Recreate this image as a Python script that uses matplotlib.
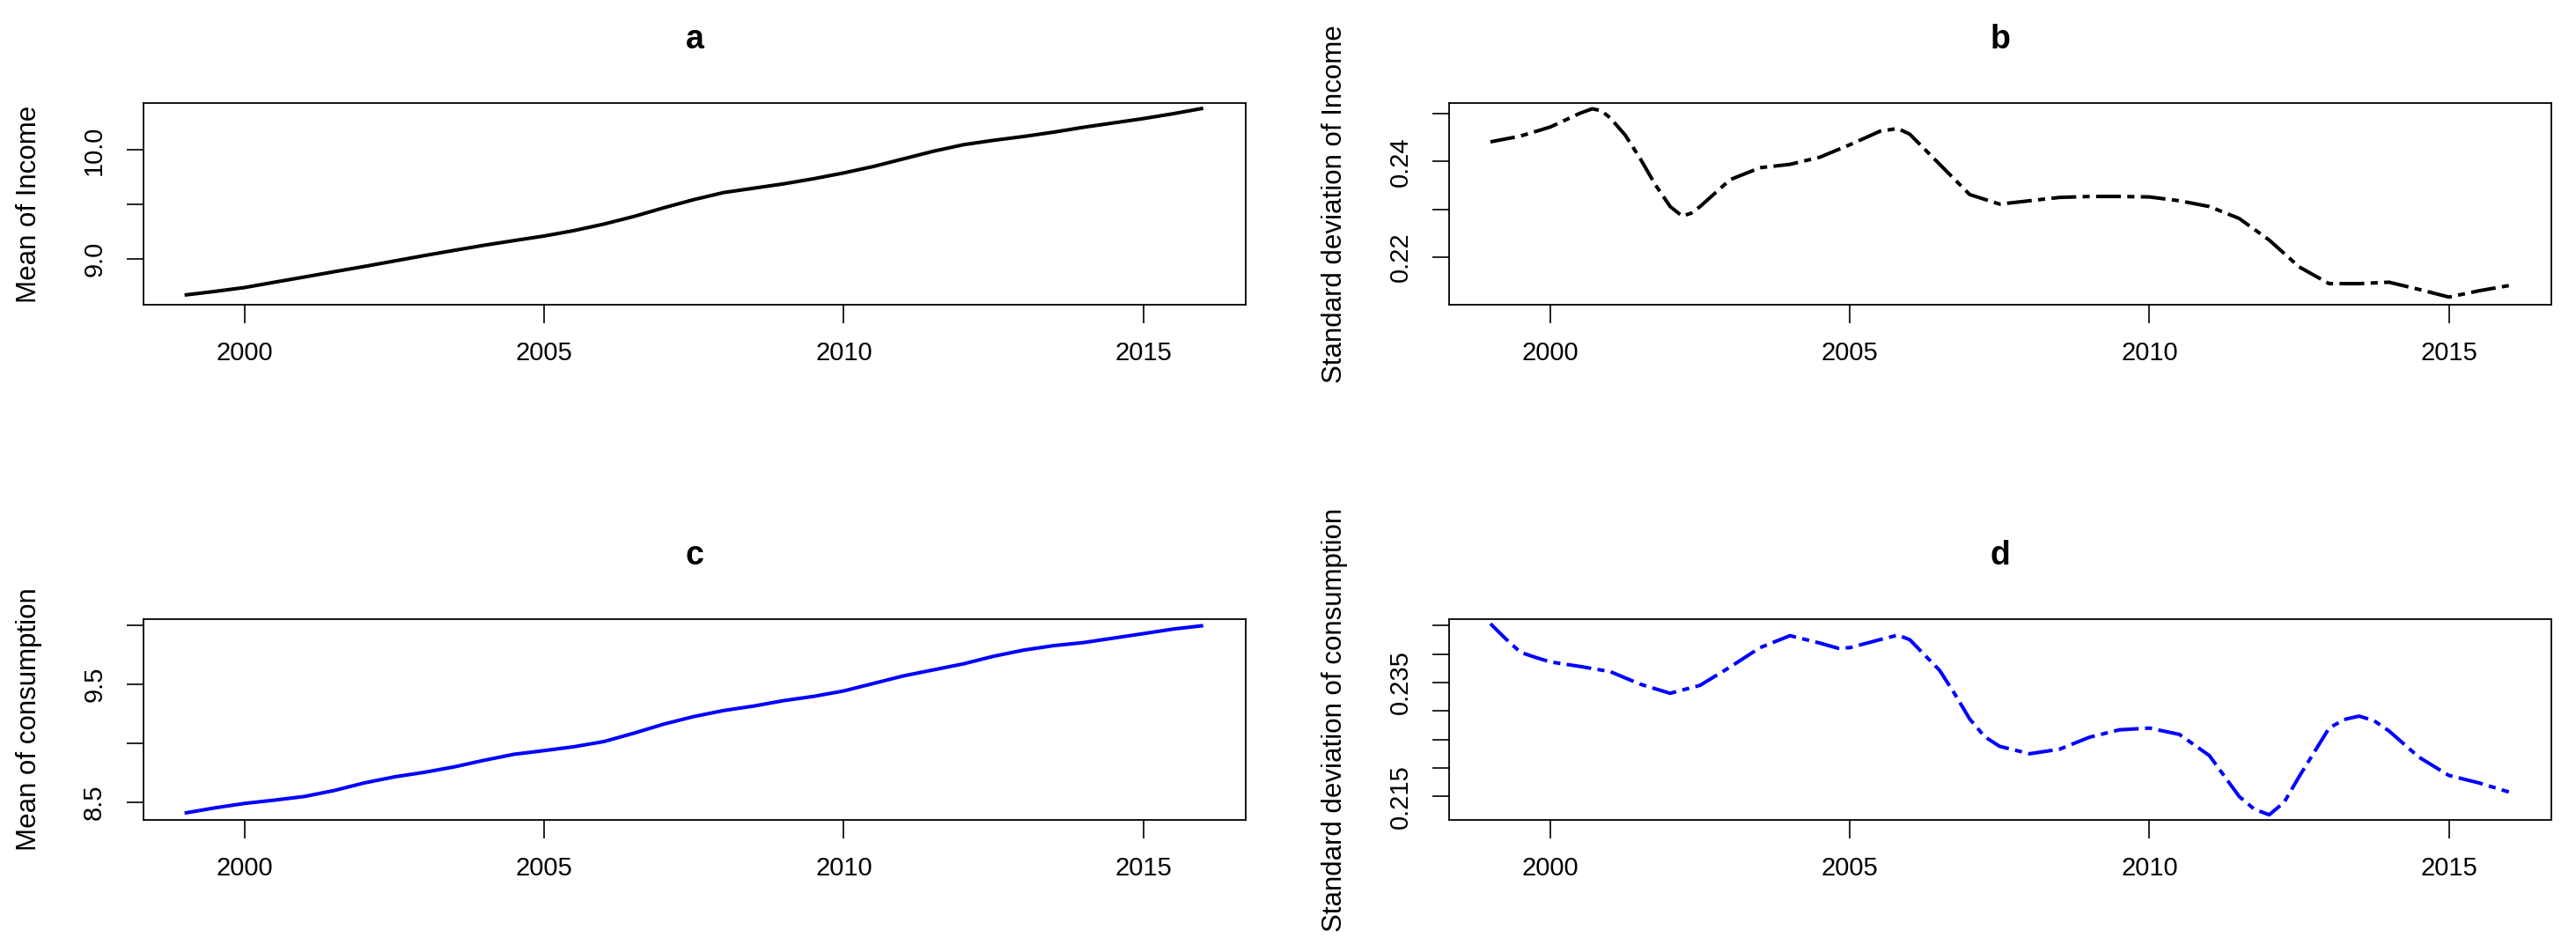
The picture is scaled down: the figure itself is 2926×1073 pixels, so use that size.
import matplotlib
matplotlib.use("Agg")
import matplotlib.pyplot as plt

plt.rcParams['font.family'] = ['Liberation Sans', 'DejaVu Sans']

# ---- data ----
years_a = [1999, 1999.5, 2000, 2000.5, 2001, 2001.5, 2002, 2002.5, 2003, 2003.5,
           2004, 2004.5, 2005, 2005.5, 2006, 2006.5, 2007, 2007.5, 2008, 2008.5,
           2009, 2009.5, 2010, 2010.5, 2011, 2011.5, 2012, 2012.5, 2013, 2013.5,
           2014, 2014.5, 2015, 2015.5, 2016]
mean_income = [8.667, 8.700, 8.736, 8.785, 8.833, 8.882, 8.93, 8.98, 9.03, 9.078,
               9.125, 9.168, 9.21, 9.26, 9.32, 9.39, 9.47, 9.545, 9.61, 9.65,
               9.69, 9.737, 9.79, 9.85, 9.92, 9.99, 10.05, 10.09, 10.125, 10.165,
               10.21, 10.25, 10.29, 10.335, 10.385]

years_b = [1999, 1999.5, 2000, 2000.5, 2000.7, 2000.85, 2001, 2001.25, 2001.5, 2001.75,
           2002, 2002.2, 2002.35, 2002.5, 2003, 2003.5, 2004, 2004.5, 2005, 2005.5,
           2005.8, 2006, 2006.5, 2007, 2007.5, 2008, 2008.5, 2009, 2009.5, 2010,
           2010.5, 2011, 2011.5, 2012, 2012.5, 2013, 2013.5, 2014, 2014.5, 2015,
           2015.5, 2016]
sd_income = [0.2441, 0.2453, 0.2472, 0.2501, 0.2510, 0.2506, 0.2491, 0.2455, 0.2406, 0.2352,
             0.2306, 0.2286, 0.2292, 0.2306, 0.2362, 0.2387, 0.2394, 0.2409, 0.2435, 0.2463,
             0.2469, 0.2457, 0.2394, 0.2331, 0.2311, 0.2318, 0.2325, 0.2327, 0.2327, 0.2326,
             0.2318, 0.2306, 0.2281, 0.2236, 0.2180, 0.2145, 0.2145, 0.2148, 0.2133, 0.2117,
             0.2130, 0.2141]

years_c = [1999, 1999.5, 2000, 2000.5, 2001, 2001.5, 2002, 2002.5, 2003, 2003.5,
           2004, 2004.5, 2005, 2005.5, 2006, 2006.5, 2007, 2007.5, 2008, 2008.5,
           2009, 2009.5, 2010, 2010.5, 2011, 2011.5, 2012, 2012.5, 2013, 2013.5,
           2014, 2014.5, 2015, 2015.5, 2016]
mean_cons = [8.41, 8.454, 8.492, 8.520, 8.551, 8.602, 8.666, 8.717, 8.756, 8.802,
             8.858, 8.909, 8.940, 8.973, 9.017, 9.088, 9.165, 9.229, 9.280, 9.318,
             9.364, 9.400, 9.446, 9.510, 9.574, 9.625, 9.676, 9.740, 9.792, 9.830,
             9.856, 9.894, 9.932, 9.971, 10.0]

years_d = [1999, 1999.25, 1999.5, 1999.75, 2000, 2000.5, 2001, 2001.5, 2002, 2002.5,
           2003, 2003.5, 2004, 2004.5, 2004.8, 2005, 2005.5, 2005.8, 2006, 2006.5,
           2006.75, 2007, 2007.25, 2007.5, 2008, 2008.5, 2009, 2009.5, 2010, 2010.5,
           2011, 2011.5, 2011.75, 2012, 2012.25, 2012.5, 2013, 2013.25, 2013.5, 2013.75,
           2014, 2014.5, 2015, 2015.5, 2016]
sd_cons = [0.2453, 0.2427, 0.2403, 0.2394, 0.2386, 0.2378, 0.2369, 0.2347, 0.2331, 0.2345,
           0.2377, 0.2411, 0.2432, 0.2419, 0.2410, 0.2411, 0.2425, 0.2433, 0.2425, 0.2371,
           0.2330, 0.2286, 0.2255, 0.2238, 0.2225, 0.2233, 0.2254, 0.2267, 0.2270, 0.2259,
           0.2222, 0.2150, 0.2128, 0.2118, 0.2140, 0.2185, 0.2270, 0.2285, 0.2291, 0.2283,
           0.2265, 0.2219, 0.2187, 0.2174, 0.2158]

x_ticks = [2000, 2005, 2010, 2015]
x_ticklabels = ['2000', '2005', '2010', '2015']

a_yticks = [9.0, 9.5, 10.0]
a_yticklabels = ['9.0', '', '10.0']
b_yticks = [0.22, 0.23, 0.24, 0.25]
b_yticklabels = ['0.22', '', '0.24', '']
c_yticks = [8.5, 9.0, 9.5, 10.0]
c_yticklabels = ['8.5', '', '9.5', '']
d_yticks = [0.215, 0.220, 0.225, 0.230, 0.235, 0.240, 0.245]
d_yticklabels = ['0.215', '', '', '', '0.235', '', '']

titles = ['a', 'b', 'c', 'd']
ylabels = ['Mean of Income', 'Standard deviation of Income',
           'Mean of consumption', 'Standard deviation of consumption']

# ---- figure ----
W, H = 2926, 1073
fig = plt.figure(figsize=(W / 100, H / 100), dpi=100)

def px_axes(left, top, right, bottom):
    return fig.add_axes([left / W, 1 - bottom / H, (right - left) / W, (bottom - top) / H])

axes = [
    px_axes(162.7, 117.0, 1415.0, 346.0),
    px_axes(1646.0, 117.0, 2898.0, 346.0),
    px_axes(162.7, 703.0, 1415.0, 931.0),
    px_axes(1646.0, 703.0, 2898.0, 931.0),
]
ylims = [(8.578, 10.433), (0.2101, 0.2522), (8.352, 10.055), (0.2109, 0.2461)]
yticks = [a_yticks, b_yticks, c_yticks, d_yticks]
yticklabels = [a_yticklabels, b_yticklabels, c_yticklabels, d_yticklabels]
series = [(years_a, mean_income, 'black', '-'),
          (years_b, sd_income, 'black', (0, (7, 1.8, 2, 1.8))),
          (years_c, mean_cons, '#0000FF', '-'),
          (years_d, sd_cons, '#0000FF', (0, (7, 1.8, 2, 1.8)))]

for i, ax in enumerate(axes):
    xs, ys, col, ls = series[i]
    ax.plot(xs, ys, color=col, linestyle=ls, linewidth=2.9, solid_capstyle='butt',
            solid_joinstyle='round')
    ax.set_xlim(1998.31, 2016.71)
    ax.set_ylim(*ylims[i])
    ax.set_xticks(x_ticks)
    ax.set_xticklabels(x_ticklabels)
    ax.set_yticks(yticks[i])
    ax.set_yticklabels(yticklabels[i], rotation=90, va='center', ha='center')
    for lab in ax.get_xticklabels():
        lab.set_va('center')
    ax.tick_params(axis='x', direction='out', length=15, width=1.2, pad=24.5,
                   labelsize=21)
    ax.tick_params(axis='y', direction='out', length=14, width=1.2, pad=26,
                   labelsize=21)
    for sp in ax.spines.values():
        sp.set_linewidth(1.3)
    ax.set_ylabel(ylabels[i], fontsize=22.5, va='center')
    ax.yaxis.set_label_coords(-130 / 1252.0, 0.5)
    ax.text(0.5, 1 + 72 / 229.0, titles[i], transform=ax.transAxes,
            ha='center', va='center', fontsize=27, fontweight='bold')

fig.savefig('out.png', dpi=100, facecolor='white')
